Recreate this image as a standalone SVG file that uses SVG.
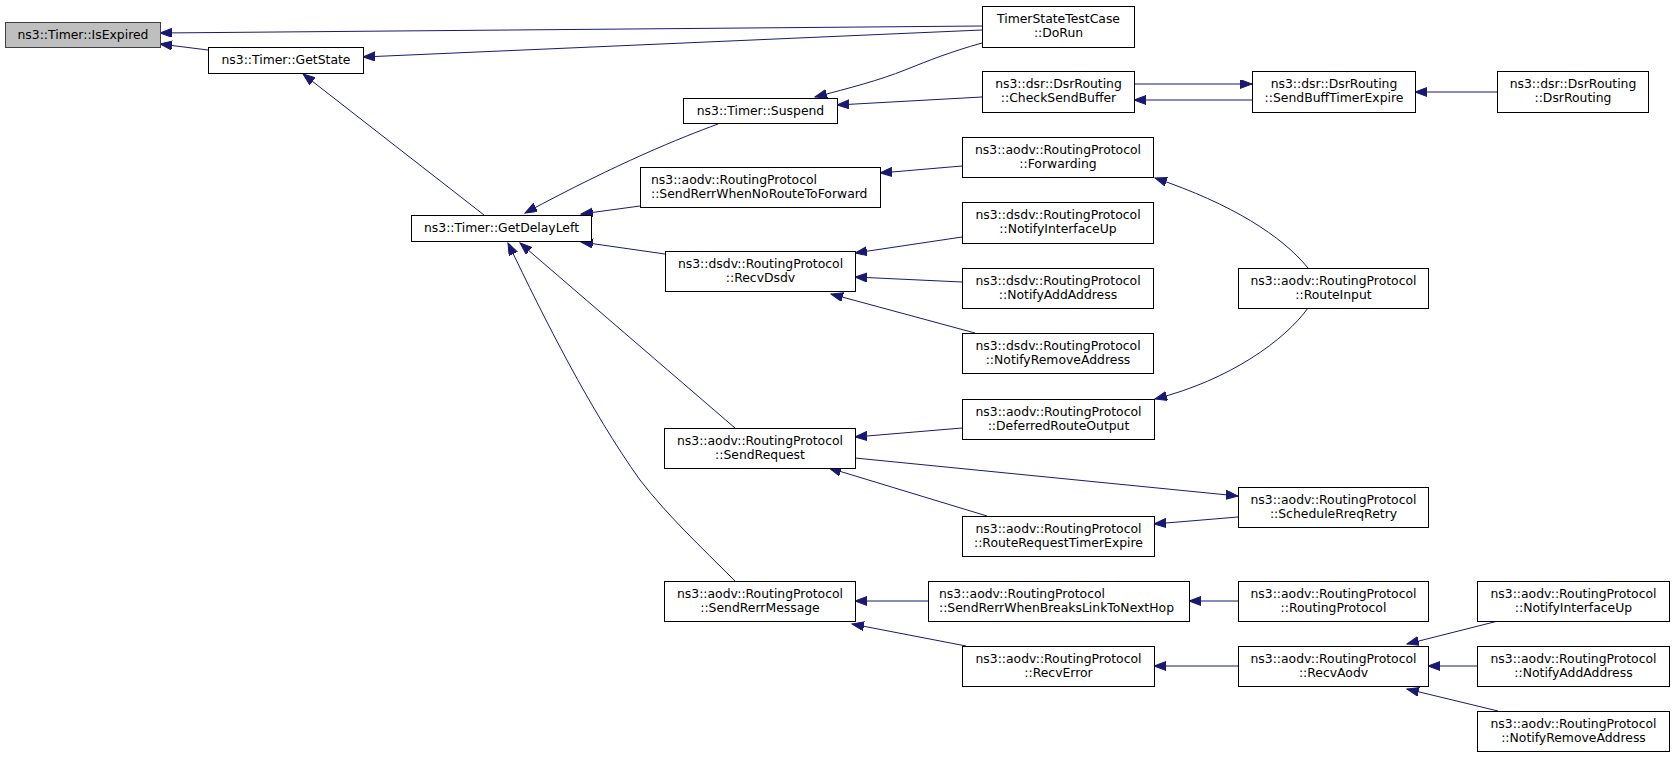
<svg xmlns="http://www.w3.org/2000/svg" width="1675" height="757" viewBox="0 0 1675 757">
<defs>
<style>
.n rect{fill:#ffffff;stroke:#000000;stroke-width:1}
.n.g rect{fill:#bfbfbf;stroke:#404040}
.n text{font-family:"DejaVu Sans",sans-serif;font-size:12.4px;fill:#000000;text-anchor:middle}
.n text.l{text-anchor:start}
.e path{fill:none;stroke:#191970;stroke-width:1;marker-end:url(#ah)}
</style>
<marker id="ah" markerWidth="14" markerHeight="11" refX="12" refY="4.5" orient="auto" markerUnits="userSpaceOnUse">
<path d="M0,0 L12,4.5 L0,9 z" fill="#191970" stroke="#191970" stroke-width="1"/>
</marker>
</defs>
<rect width="1675" height="757" fill="#ffffff"/>
<g id="edges" class="e">
<path d="M982,26 L160,33"/>
<path d="M982,30 L363,57"/>
<path d="M208,50 L160,44"/>
<path d="M484,215 L303,74"/>
<path d="M718,124 C680,138 620,162 525,213"/>
<path d="M982,43 C950,52 930,60 905,70 C880,80 850,88 815,97"/>
<path d="M982,97 L837,105"/>
<path d="M1134,84 L1252,84"/>
<path d="M1252,100 L1134,100"/>
<path d="M1497,92 L1415,92"/>
<path d="M640,206 L581,214"/>
<path d="M962,166 L880,173"/>
<path d="M1308,268 C1282,236 1232,204 1155,178"/>
<path d="M665,254 L581,242"/>
<path d="M962,237 L855,253"/>
<path d="M962,282 L855,277"/>
<path d="M975,333 L831,294"/>
<path d="M735,428 L520,243"/>
<path d="M735,581 C700,546 668,516 640,480 C590,410 545,320 508,243"/>
<path d="M962,428 L855,437"/>
<path d="M1308,308 C1285,340 1230,380 1155,399"/>
<path d="M855,458 L1238,496"/>
<path d="M987,516 L829,468"/>
<path d="M1238,517 L1154,524"/>
<path d="M928,601 L855,601"/>
<path d="M966,646 L852,624"/>
<path d="M1238,601 L1189,601"/>
<path d="M1238,666 L1154,666"/>
<path d="M1498,621 L1407,644"/>
<path d="M1477,666 L1428,666"/>
<path d="M1498,711 L1407,689"/>
</g>
<g id="n0" class="n g"><rect x="5.5" y="22.5" width="155" height="25"/><text x="83" y="38.5">ns3::Timer::IsExpired</text></g>
<g id="n1" class="n"><rect x="208.5" y="47.5" width="155" height="26"/><text x="286" y="64">ns3::Timer::GetState</text></g>
<g id="n2" class="n"><rect x="982.5" y="6.5" width="152" height="41"/><text x="1058.5" y="22.5">TimerStateTestCase</text><text x="1058.5" y="37">::DoRun</text></g>
<g id="n3" class="n"><rect x="683.5" y="98.5" width="154" height="25"/><text x="760.5" y="115">ns3::Timer::Suspend</text></g>
<g id="n4" class="n"><rect x="411.5" y="215.5" width="180" height="26"/><text x="501.5" y="232">ns3::Timer::GetDelayLeft</text></g>
<g id="n5" class="n"><rect x="640.5" y="167.5" width="240" height="40"/><text class="l" x="651" y="183.5">ns3::aodv::RoutingProtocol</text><text class="l" x="651" y="197.5">::SendRerrWhenNoRouteToForward</text></g>
<g id="n6" class="n"><rect x="982.5" y="71.5" width="152" height="41"/><text x="1058.5" y="87.5">ns3::dsr::DsrRouting</text><text x="1058.5" y="102">::CheckSendBuffer</text></g>
<g id="n7" class="n"><rect x="1252.5" y="71.5" width="163" height="41"/><text x="1334" y="87.5">ns3::dsr::DsrRouting</text><text x="1334" y="102">::SendBuffTimerExpire</text></g>
<g id="n8" class="n"><rect x="1497.5" y="71.5" width="151" height="41"/><text x="1573" y="87.5">ns3::dsr::DsrRouting</text><text x="1573" y="102">::DsrRouting</text></g>
<g id="n9" class="n"><rect x="962.5" y="137.5" width="191" height="40"/><text x="1058" y="153.5">ns3::aodv::RoutingProtocol</text><text x="1058" y="167.5">::Forwarding</text></g>
<g id="n10" class="n"><rect x="665.5" y="251.5" width="190" height="40"/><text x="760.5" y="267.5">ns3::dsdv::RoutingProtocol</text><text x="760.5" y="281.5">::RecvDsdv</text></g>
<g id="n11" class="n"><rect x="962.5" y="202.5" width="191" height="41"/><text x="1058" y="218.5">ns3::dsdv::RoutingProtocol</text><text x="1058" y="233">::NotifyInterfaceUp</text></g>
<g id="n12" class="n"><rect x="962.5" y="268.5" width="191" height="40"/><text x="1058" y="284.5">ns3::dsdv::RoutingProtocol</text><text x="1058" y="298.5">::NotifyAddAddress</text></g>
<g id="n13" class="n"><rect x="962.5" y="333.5" width="191" height="40"/><text x="1058" y="349.5">ns3::dsdv::RoutingProtocol</text><text x="1058" y="363.5">::NotifyRemoveAddress</text></g>
<g id="n14" class="n"><rect x="1238.5" y="268.5" width="190" height="40"/><text x="1333.5" y="284.5">ns3::aodv::RoutingProtocol</text><text x="1333.5" y="298.5">::RouteInput</text></g>
<g id="n15" class="n"><rect x="664.5" y="428.5" width="191" height="40"/><text x="760" y="444.5">ns3::aodv::RoutingProtocol</text><text x="760" y="458.5">::SendRequest</text></g>
<g id="n16" class="n"><rect x="962.5" y="399.5" width="192" height="40"/><text x="1058.5" y="415.5">ns3::aodv::RoutingProtocol</text><text x="1058.5" y="429.5">::DeferredRouteOutput</text></g>
<g id="n17" class="n"><rect x="1238.5" y="487.5" width="190" height="40"/><text x="1333.5" y="503.5">ns3::aodv::RoutingProtocol</text><text x="1333.5" y="517.5">::ScheduleRreqRetry</text></g>
<g id="n18" class="n"><rect x="962.5" y="516.5" width="192" height="40"/><text x="1058.5" y="532.5">ns3::aodv::RoutingProtocol</text><text x="1058.5" y="546.5">::RouteRequestTimerExpire</text></g>
<g id="n19" class="n"><rect x="664.5" y="581.5" width="191" height="40"/><text x="760" y="597.5">ns3::aodv::RoutingProtocol</text><text x="760" y="611.5">::SendRerrMessage</text></g>
<g id="n20" class="n"><rect x="928.5" y="581.5" width="261" height="40"/><text class="l" x="939" y="597.5">ns3::aodv::RoutingProtocol</text><text class="l" x="939" y="611.5">::SendRerrWhenBreaksLinkToNextHop</text></g>
<g id="n21" class="n"><rect x="1238.5" y="581.5" width="190" height="40"/><text x="1333.5" y="597.5">ns3::aodv::RoutingProtocol</text><text x="1333.5" y="611.5">::RoutingProtocol</text></g>
<g id="n22" class="n"><rect x="1477.5" y="581.5" width="192" height="40"/><text x="1573.5" y="597.5">ns3::aodv::RoutingProtocol</text><text x="1573.5" y="611.5">::NotifyInterfaceUp</text></g>
<g id="n23" class="n"><rect x="962.5" y="646.5" width="192" height="40"/><text x="1058.5" y="662.5">ns3::aodv::RoutingProtocol</text><text x="1058.5" y="676.5">::RecvError</text></g>
<g id="n24" class="n"><rect x="1238.5" y="646.5" width="190" height="40"/><text x="1333.5" y="662.5">ns3::aodv::RoutingProtocol</text><text x="1333.5" y="676.5">::RecvAodv</text></g>
<g id="n25" class="n"><rect x="1477.5" y="646.5" width="192" height="40"/><text x="1573.5" y="662.5">ns3::aodv::RoutingProtocol</text><text x="1573.5" y="676.5">::NotifyAddAddress</text></g>
<g id="n26" class="n"><rect x="1477.5" y="711.5" width="192" height="40"/><text x="1573.5" y="727.5">ns3::aodv::RoutingProtocol</text><text x="1573.5" y="741.5">::NotifyRemoveAddress</text></g>
</svg>
